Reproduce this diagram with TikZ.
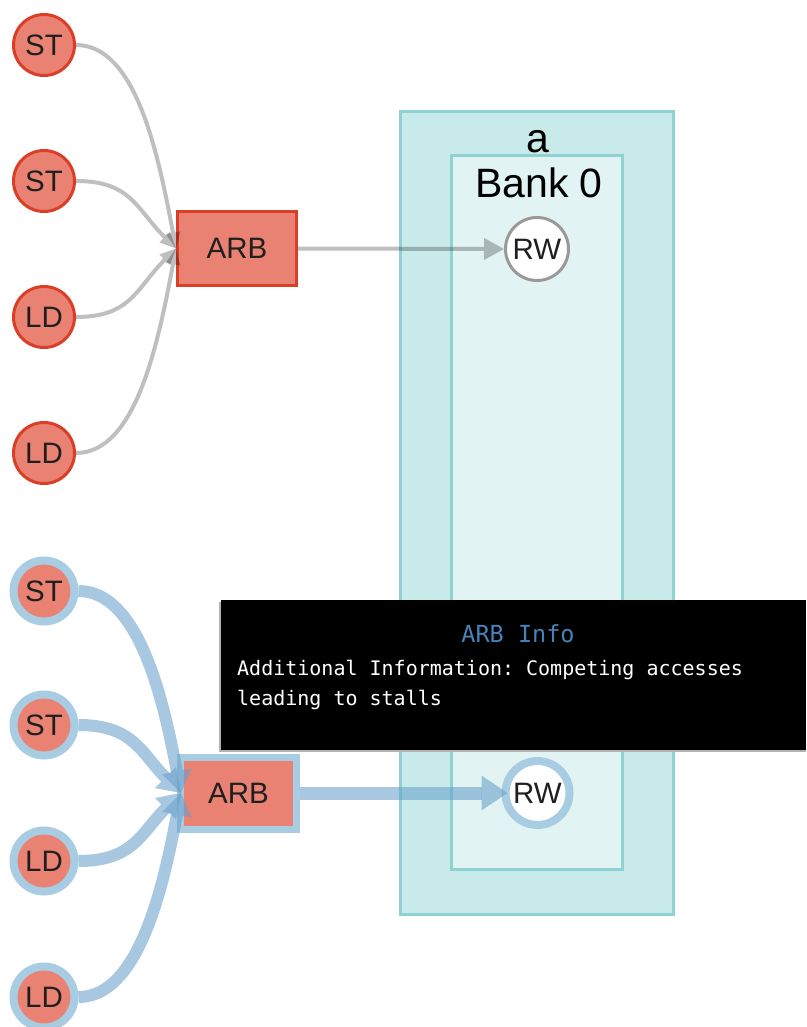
\documentclass[tikz,border=0pt]{standalone}
\usepackage{fontspec}
\setmainfont{Liberation Sans}
\newfontfamily\tipfont{DejaVu Sans Mono}
\usetikzlibrary{arrows.meta}
\frenchspacing

\definecolor{salmonfill}{RGB}{233,130,115}
\definecolor{redline}{RGB}{218,62,38}
\definecolor{ringblue}{RGB}{168,204,226}
\definecolor{edgeblue}{RGB}{105,160,203}
\definecolor{clusterouter}{RGB}{200,234,234}
\definecolor{clusterinner}{RGB}{225,243,243}
\definecolor{clusterline}{RGB}{143,210,210}
\definecolor{titleblue}{RGB}{70,130,185}

\begin{document}
\begin{tikzpicture}[x=1pt,y=-1pt,
  lbl/.style={font=\fontsize{29.5}{31}\selectfont, text=black!88},
  opnode/.style={circle, draw=redline, line width=3pt, fill=salmonfill,
    minimum size=61pt, inner sep=0pt, lbl},
  hotop/.style={circle, draw=ringblue, line width=8pt, fill=salmonfill,
    minimum size=61pt, inner sep=0pt, lbl},
  arbbox/.style={rectangle, draw=redline, line width=3pt, fill=salmonfill,
    minimum width=119pt, minimum height=74pt, inner sep=0pt, lbl},
  hotarb/.style={rectangle, draw=ringblue, line width=7pt, fill=salmonfill,
    minimum width=116pt, minimum height=72pt, inner sep=0pt, lbl},
  rwnode/.style={circle, draw=black!40, line width=3pt, fill=white,
    minimum size=63pt, inner sep=0pt, lbl},
  hotrw/.style={circle, draw=ringblue, line width=8pt, fill=white,
    minimum size=64pt, inner sep=0pt, lbl},
  cluster/.style={draw=clusterline, line width=3pt},
  gedge/.style={draw=black, opacity=0.25, line width=4pt,
    -{Triangle[length=16pt,width=15pt,line width=0pt]}},
  gmain/.style={draw=black, opacity=0.25, line width=4pt,
    -{Triangle[length=20pt,width=22pt,line width=0pt]}},
  bedge/.style={draw=edgeblue, opacity=0.58, line width=12pt,
    -{Triangle[length=22pt,width=30pt,line width=0pt]}},
  bmain/.style={draw=edgeblue, opacity=0.58, line width=13pt,
    -{Triangle[length=26pt,width=35pt,line width=0pt]}},
  tiptext/.style={font=\tipfont\fontsize{20}{22}\selectfont, text=white,
    anchor=base west, inner sep=0pt},
]
\useasboundingbox (0,0) rectangle (806,1027);

% memory clusters
\filldraw[cluster, fill=clusterouter] (400,112) rectangle (673,914);
\filldraw[cluster, fill=clusterinner] (451,156) rectangle (622,869);
\node[font=\fontsize{41}{42}\selectfont, anchor=base] (clabel) at (538,153) {a};
\node[font=\fontsize{41}{42}\selectfont, anchor=base] (blabel) at (539,197) {Bank 0};

% upper group
\node[opnode] (st1) at (44,45) {ST};
\node[opnode] (st2) at (44,181) {ST};
\node[opnode] (ld1) at (44,317) {LD};
\node[opnode] (ld2) at (44,453) {LD};
\node[arbbox] (arb) at (237,248.5) {ARB};
\node[rwnode] (rw) at (537,249) {RW};

\draw[gedge] (st1.east) .. controls +(60,0) and +(-18,-95) .. (arb.west);
\draw[gedge] (st2.east) .. controls +(55,0) and +(-40,-40) .. (arb.west);
\draw[gedge] (ld1.east) .. controls +(55,0) and +(-40,40) .. (arb.west);
\draw[gedge] (ld2.east) .. controls +(60,0) and +(-18,95) .. (arb.west);
\draw[gmain] (arb.east) -- (rw.west);

% lower (highlighted) group
\node[hotop] (hst1) at (44,591) {ST};
\node[hotop] (hst2) at (44,725) {ST};
\node[hotop] (hld1) at (44,861) {LD};
\node[hotop] (hld2) at (44,997) {LD};
\node[hotarb] (harb) at (238.5,793) {ARB};
\node[hotrw] (hrw) at (537.5,793) {RW};

\coordinate (hin) at ([xshift=4pt]harb.west);
\draw[bedge] (hst1.east) .. controls +(60,0) and +(-18,-95) .. (hin);
\draw[bedge] (hst2.east) .. controls +(55,0) and +(-40,-40) .. (hin);
\draw[bedge] (hld1.east) .. controls +(55,0) and +(-40,40) .. (hin);
\draw[bedge] (hld2.east) .. controls +(60,0) and +(-18,95) .. (hin);
\draw[bmain] (harb.east) -- ([xshift=6pt]hrw.west);

% tooltip
\fill[black!30] (219,602) rectangle (806,752);
\fill[black] (221,600) rectangle (806,750);
\node[font=\tipfont\fontsize{23.5}{25}\selectfont, text=titleblue, anchor=base, inner sep=0pt]
  (ttitle) at (518,642) {ARB Info};
\node[tiptext] (tline1) at (237,675) {Additional Information: Competing accesses};
\node[tiptext] (tline2) at (237,705) {leading to stalls};
\end{tikzpicture}
\end{document}
